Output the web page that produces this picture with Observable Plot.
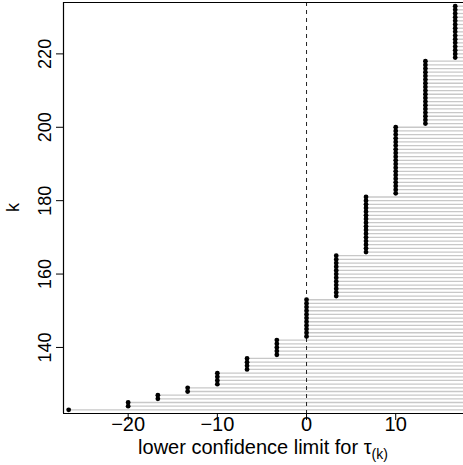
<!DOCTYPE html>
<html><head><meta charset="utf-8">
<script src="https://cdn.jsdelivr.net/npm/d3@7"></script>
<script src="https://cdn.jsdelivr.net/npm/@observablehq/plot@0.6"></script>
<style>body{margin:0;background:#fff} svg{display:block}</style>
</head><body><div id="chart"></div>
<script>
const kValues = [
  123,124,125,126,127,128,129,130,131,132,133,134,135,136,137,138,139,140,141,142,
  143,144,145,146,147,148,149,150,151,152,153,154,155,156,157,158,159,160,161,162,
  163,164,165,166,167,168,169,170,171,172,173,174,175,176,177,178,179,180,181,182,
  183,184,185,186,187,188,189,190,191,192,193,194,195,196,197,198,199,200,201,202,
  203,204,205,206,207,208,209,210,211,212,213,214,215,216,217,218,219,220,221,222,
  223,224,225,226,227,228,229,230,231,232,233
];
const lowerLimits = [
  -26.67,
  -20,-20,
  -16.67,-16.67,
  -13.33,-13.33,
  -10,-10,-10,-10,
  -6.67,-6.67,-6.67,-6.67,
  -3.33,-3.33,-3.33,-3.33,-3.33,
  0,0,0,0,0,0,0,0,0,0,0,
  3.33,3.33,3.33,3.33,3.33,3.33,3.33,3.33,3.33,3.33,3.33,3.33,
  6.67,6.67,6.67,6.67,6.67,6.67,6.67,6.67,6.67,6.67,6.67,6.67,6.67,6.67,6.67,6.67,
  10,10,10,10,10,10,10,10,10,10,10,10,10,10,10,10,10,10,10,
  13.33,13.33,13.33,13.33,13.33,13.33,13.33,13.33,13.33,13.33,13.33,13.33,13.33,13.33,13.33,13.33,13.33,13.33,
  16.67,16.67,16.67,16.67,16.67,16.67,16.67,16.67,16.67,16.67,16.67,16.67,16.67,16.67,16.67
];
const xTicks = [-20, -10, 0, 10];
const yTicks = [140, 160, 180, 200, 220];
const referenceLine = [0];
const xLabelMain = "lower confidence limit for τ";
const xLabelSub = "(k)";
const yLabel = "k";

const data = kValues.map((k, i) => ({k, lo: lowerLimits[i]}));
const xDomain = [-27.25, 17.6];
const yDomain = [122, 234];
const font = "'Liberation Sans', Arial, Helvetica, sans-serif";
const fmt = d => d < 0 ? "\u2212" + Math.abs(d) : String(d);

const svg = Plot.plot({
  width: 463, height: 465,
  marginLeft: 63, marginRight: 0, marginTop: 2, marginBottom: 52,
  style: {fontFamily: font, fontSize: "18px", background: "#fff", color: "#000"},
  x: {domain: xDomain, label: null},
  y: {domain: yDomain, label: null},
  marks: [
    Plot.ruleY(data, {y: "k", x1: "lo", x2: () => xDomain[1], stroke: "#c8c8c8", strokeWidth: 1.3}),
    Plot.ruleX(referenceLine, {stroke: "#222", strokeWidth: 1, strokeDasharray: "4,4"}),
    Plot.dot(data, {x: "lo", y: "k", r: 2.4, fill: "#000", stroke: null}),
    Plot.axisX(xTicks, {tickSize: 7, tickPadding: 4, fontSize: 20, tickFormat: fmt, label: null, stroke: "#000"}),
    Plot.axisY(yTicks, {tickSize: 7, tickFormat: () => "", label: null, stroke: "#000"}),
    Plot.text(yTicks, {y: d => d, frameAnchor: "left", dx: -13, rotate: -90, textAnchor: "middle", lineAnchor: "bottom", fontSize: 18, text: d => String(d)}),
    Plot.ruleX([xDomain[0]], {stroke: "#000", strokeWidth: 1.2}),
    Plot.ruleY(yDomain, {stroke: "#000", strokeWidth: 1.2})
  ]
});

// shift x tick labels up to match the reference's spacing
d3.select(svg).selectAll("[aria-label='x-axis tick label']").attr("transform", function() {
  const tr = this.getAttribute("transform") || "";
  return tr + " translate(0,-8)";
});

const xs = svg.scale("x"), ys = svg.scale("y");
const cx = (xs.range[0] + xs.range[1]) / 2;
const cy = (ys.range[0] + ys.range[1]) / 2;
const s = d3.select(svg);
const t = s.append("text")
  .attr("x", cx).attr("y", 454)
  .attr("text-anchor", "middle")
  .attr("font-family", font).attr("font-size", 20).attr("fill", "#000");
t.append("tspan").text(xLabelMain);
t.append("tspan").attr("font-size", 14).attr("dy", 5).text(xLabelSub);

s.append("text")
  .attr("transform", `translate(19,${cy}) rotate(-90)`)
  .attr("text-anchor", "middle")
  .attr("font-family", font).attr("font-size", 18).attr("fill", "#000")
  .text(yLabel);

document.getElementById("chart").appendChild(svg);
</script>
</body></html>
